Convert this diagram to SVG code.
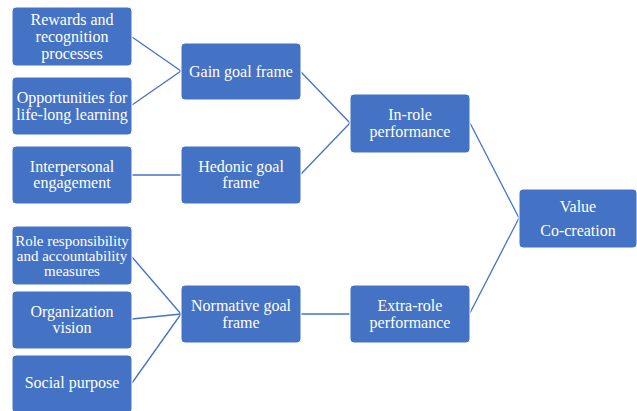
<svg xmlns="http://www.w3.org/2000/svg" width="637" height="411" viewBox="0 0 637 411">
<style>
.box{fill:#4472C4;stroke:#ffffff;stroke-width:1}
.c{stroke:#4472C4;stroke-width:1.3;fill:none}
</style>
<rect width="637" height="411" fill="#ffffff"/>
<g id="connectors">
<line class="c" x1="132" y1="37" x2="181" y2="71"/>
<line class="c" x1="132" y1="105" x2="181" y2="71"/>
<line class="c" x1="132" y1="175" x2="181" y2="175"/>
<line class="c" x1="132" y1="257" x2="181" y2="314"/>
<line class="c" x1="132" y1="319" x2="181" y2="314"/>
<line class="c" x1="132" y1="383" x2="181" y2="314"/>
<line class="c" x1="301" y1="72" x2="350" y2="123"/>
<line class="c" x1="301" y1="174" x2="350" y2="123"/>
<line class="c" x1="301" y1="314" x2="350" y2="314"/>
<line class="c" x1="470" y1="123" x2="519" y2="218"/>
<line class="c" x1="470" y1="313" x2="519" y2="218"/>
</g>
<g font-family="Liberation Serif, serif" font-size="16" fill="#ffffff" text-anchor="middle">
<g id="rewards"><rect class="box" x="12" y="7" width="120" height="59" rx="4"/><text x="72" y="25">Rewards and</text><text x="72" y="42">recognition</text><text x="72" y="59">processes</text></g>
<g id="opportunities"><rect class="box" x="12" y="77" width="120" height="58" rx="4"/><text x="72" y="103">Opportunities for</text><text x="72" y="120">life-long learning</text></g>
<g id="interpersonal"><rect class="box" x="12" y="146" width="120" height="58" rx="4"/><text x="72" y="172">Interpersonal</text><text x="72" y="188">engagement</text></g>
<g id="role" font-size="15"><rect class="box" x="12" y="226" width="120" height="59" rx="4"/><text x="72" y="246">Role responsibility</text><text x="72" y="261">and accountability</text><text x="72" y="276">measures</text></g>
<g id="organization"><rect class="box" x="12" y="291" width="120" height="58" rx="4"/><text x="72" y="317">Organization</text><text x="72" y="333">vision</text></g>
<g id="social"><rect class="box" x="12" y="355" width="120" height="58" rx="4"/><text x="72" y="388">Social purpose</text></g>
<g id="gain"><rect class="box" x="181" y="43" width="120" height="57" rx="4"/><text x="241" y="77">Gain goal frame</text></g>
<g id="hedonic"><rect class="box" x="181" y="146" width="120" height="58" rx="4"/><text x="241" y="172">Hedonic goal</text><text x="241" y="188">frame</text></g>
<g id="normative"><rect class="box" x="181" y="285" width="120" height="58" rx="4"/><text x="241" y="311">Normative goal</text><text x="241" y="328">frame</text></g>
<g id="inrole"><rect class="box" x="350" y="94" width="120" height="59" rx="4"/><text x="410" y="120">In-role</text><text x="410" y="137">performance</text></g>
<g id="extrarole"><rect class="box" x="350" y="285" width="120" height="58" rx="4"/><text x="410" y="311">Extra-role</text><text x="410" y="328">performance</text></g>
<g id="value"><rect class="box" x="519" y="189" width="118" height="59" rx="4"/><text x="578" y="212">Value</text><text x="578" y="236">Co-creation</text></g>
</g>
</svg>
